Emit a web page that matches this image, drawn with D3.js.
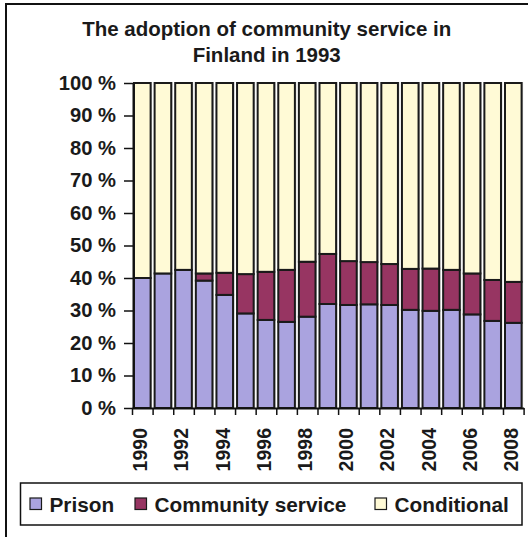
<!DOCTYPE html>
<html>
<head>
<meta charset="utf-8">
<script src="https://cdn.jsdelivr.net/npm/d3@7"></script>
<style>
  html, body { margin: 0; padding: 0; background: #fff; overflow: hidden; }
  svg { display: block; font-family: "Liberation Sans", Arial, sans-serif; font-weight: bold; }
</style>
</head>
<body>
<svg id="chart" width="528" height="537"></svg>
<script>
// Sentence shares in Finland (% of sentences), 1990–2008
const years = ["1990","1991","1992","1993","1994","1995","1996","1997","1998","1999",
               "2000","2001","2002","2003","2004","2005","2006","2007","2008"];
const prison      = [40.0, 41.4, 42.5, 39.2, 34.8, 29.1, 27.1, 26.5, 28.1, 32.0,
                     31.7, 31.9, 31.7, 30.2, 29.9, 30.2, 28.8, 26.8, 26.2];
const community   = [0.0, 0.0, 0.0, 2.2, 6.8, 12.1, 14.8, 16.0, 16.9, 15.4,
                     13.5, 13.0, 12.6, 12.6, 13.0, 12.3, 12.6, 12.6, 12.6];
const conditional = [60.0, 58.6, 57.5, 58.6, 58.4, 58.8, 58.1, 57.5, 55.0, 52.6,
                     54.8, 55.1, 55.7, 57.2, 57.1, 57.5, 58.6, 60.6, 61.2];
const seriesNames = ["Prison", "Community service", "Conditional"];
const seriesColors = ["#aaa3df", "#973562", "#fffad6"];
const yTicks = [0, 10, 20, 30, 40, 50, 60, 70, 80, 90, 100];
const titleLines = ["The adoption of community service in", "Finland in 1993"];

const svg = d3.select("#chart");
const keys = ["prison", "community", "conditional"];
const rows = years.map((yr, i) => ({
  year: yr, prison: prison[i], community: community[i], conditional: conditional[i]
}));
const stacked = d3.stack().keys(keys)(rows);

const plot = { left: 132, right: 523.6, top: 83, bottom: 408 };

const x = d3.scaleBand().domain(years).range([plot.left, plot.right]).padding(0);
const y = d3.scaleLinear().domain([0, 100]).range([plot.bottom, plot.top]);

// outer frame (top and left edges fall inside the page)
svg.append("path")
  .attr("d", "M6,537 V4 H528")
  .attr("fill", "none").attr("stroke", "#111").attr("stroke-width", 2);

// title
svg.append("g").selectAll("text").data(titleLines).join("text")
  .attr("x", 266.7).attr("y", (d, i) => 36 + i * 25.7)
  .attr("text-anchor", "middle").attr("font-size", 20.5).attr("fill", "#1a1a1a")
  .text(d => d);

// bar shadows
svg.append("g").selectAll("rect").data(rows).join("rect")
  .attr("x", d => x(d.year) + 3.5).attr("y", y(100) - 1)
  .attr("width", x.bandwidth() - 4).attr("height", y(0) - y(100) + 1)
  .attr("fill", "#cfcfcf");

// stacked bars
const layers = svg.append("g").selectAll("g").data(stacked).join("g")
  .attr("fill", (d, i) => seriesColors[i]);
layers.selectAll("rect").data(d => d.filter(p => p[1] - p[0] > 0)).join("rect")
  .attr("x", d => x(d.data.year) + 2)
  .attr("y", d => y(d[1]))
  .attr("width", x.bandwidth() - 4)
  .attr("height", d => y(d[0]) - y(d[1]))
  .attr("stroke", "#1a1a1a").attr("stroke-width", 2);

// y axis
const yAxis = svg.append("g").attr("transform", `translate(${plot.left + 1},0)`)
  .call(d3.axisLeft(y).tickValues(yTicks).tickSize(9).tickSizeOuter(0).tickPadding(8)
    .tickFormat(d => d + " %"));
yAxis.select(".domain").attr("stroke", "#111").attr("stroke-width", 2);
yAxis.selectAll(".tick line").attr("stroke", "#111").attr("stroke-width", 1.5);
yAxis.selectAll(".tick text").attr("font-size", 20.2).attr("font-family", "Liberation Sans, Arial, sans-serif")
  .attr("font-weight", "bold").attr("fill", "#1a1a1a");

// x axis: ticks at category boundaries
const xb = d3.scaleLinear().domain([0, years.length]).range([plot.left, plot.right]);
const xAxis = svg.append("g").attr("transform", `translate(0,${plot.bottom})`)
  .call(d3.axisBottom(xb).tickValues(d3.range(years.length + 1)).tickSize(7).tickSizeOuter(0).tickFormat(""));
xAxis.select(".domain").attr("stroke", "#111").attr("stroke-width", 2);
xAxis.selectAll(".tick line").attr("stroke", "#111").attr("stroke-width", 1.5);

// year labels (every other year)
const xLabels = svg.append("g").attr("transform", `translate(0,${plot.bottom})`)
  .call(d3.axisBottom(x).tickValues(years.filter((d, i) => i % 2 === 0)).tickSize(0).tickPadding(0));
xLabels.select(".domain").remove();
xLabels.selectAll(".tick text")
  .attr("font-size", 19.5).attr("font-family", "Liberation Sans, Arial, sans-serif")
  .attr("font-weight", "bold").attr("fill", "#1a1a1a")
  .attr("text-anchor", "end")
  .attr("transform", "rotate(-90)")
  .attr("x", -20).attr("y", -2).attr("dy", "0.35em");

// legend
const legend = svg.append("g");
legend.append("rect")
  .attr("x", 20.5).attr("y", 483).attr("width", 501.5).attr("height", 42)
  .attr("fill", "#fff").attr("stroke", "#111").attr("stroke-width", 1.5);
const legendX = [30, 135, 375];
const items = legend.selectAll("g.item").data(seriesNames).join("g")
  .attr("class", "item")
  .attr("transform", (d, i) => `translate(${legendX[i]},498)`);
items.append("rect")
  .attr("width", 11.5).attr("height", 11.5)
  .attr("fill", (d, i) => seriesColors[i])
  .attr("stroke", "#1a1a1a").attr("stroke-width", 1.2);
items.append("text")
  .attr("x", 19.5).attr("y", 13.5)
  .attr("font-size", 20.8).attr("fill", "#1a1a1a")
  .text(d => d);
</script>
</body>
</html>
